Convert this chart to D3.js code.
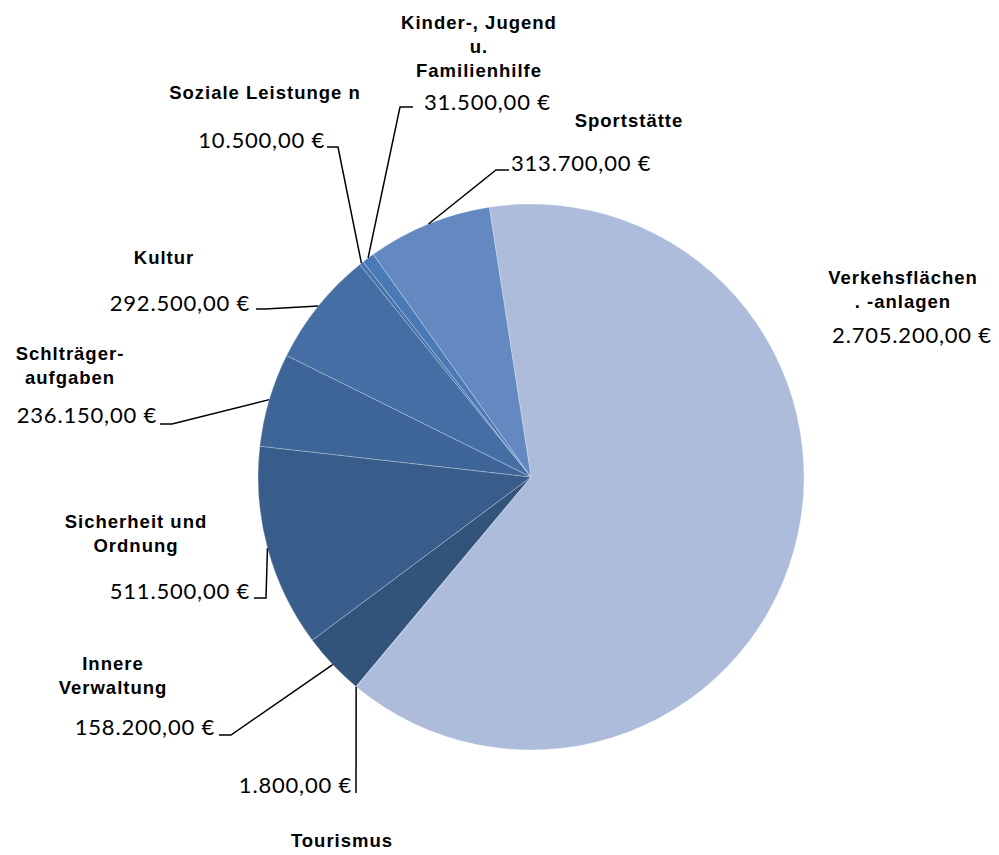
<!DOCTYPE html>
<html><head><meta charset="utf-8">
<script src="https://cdn.jsdelivr.net/npm/d3@7"></script>
<style>
html,body{margin:0;padding:0;background:#fff;}
svg{display:block;}
.name{font-family:"Liberation Sans",Arial,sans-serif;font-weight:bold;font-size:18.5px;letter-spacing:1px;fill:#000;}
.val{font-family:Lato,"Open Sans",sans-serif;font-size:22px;letter-spacing:0.8px;fill:#000;}
</style></head>
<body>
<svg id="chart" width="999" height="855"></svg>
<script>
// ---- data ----
const categories = ["Verkehsflächen . -anlagen","Tourismus","Innere Verwaltung","Sicherheit und Ordnung","Schlträger- aufgaben","Kultur","Soziale Leistunge n","Kinder-, Jugend u. Familienhilfe","Sportstätte"];
const nameLines = [["Verkehsflächen",". -anlagen"],["Tourismus"],["Innere","Verwaltung"],["Sicherheit und","Ordnung"],["Schlträger-","aufgaben"],["Kultur"],["Soziale Leistunge n"],["Kinder-, Jugend","u.","Familienhilfe"],["Sportstätte"]];
const values = [2705200,1800,158200,511500,236150,292500,10500,31500,313700];
const colors = ["#ADBCDA","#8FA6CC","#32547A","#395D8B","#3E6597","#456FA4","#4773AD","#4A7AB5","#6389C0"];

// ---- layout (label placement) ----
const labelLayout = [
  {name:[903,284,24], val:[912,343,"middle"], elbow:null},
  {name:[342,847,24], val:[352,793,"end"], elbow:[[356,793]]},
  {name:[113,670,24], val:[215,735,"end"], elbow:[[231,735],[219,735]]},
  {name:[136,528,24], val:[250,599,"end"], elbow:[[266,598],[254,598]]},
  {name:[70,360,24], val:[157,423,"end"], elbow:[[172,424],[160,424]]},
  {name:[164,264,24], val:[250,311,"end"], elbow:[[265,309],[256,309]]},
  {name:[265,99,24], val:[325,148,"end"], elbow:[[338,147],[327,147]]},
  {name:[479,29,24], val:[424,110,"start"], elbow:[[400,107],[413,107]]},
  {name:[629,127,24], val:[511,171,"start"], elbow:[[496,170],[509,170]]}
];

const cx = 531, cy = 477, R = 273;
const start = -8.8 * Math.PI / 180;
const fmt = v => d3.format(",.2f")(v).replace(/,/g,"#").replace(/\./g,",").replace(/#/g,".") + " €";

const svg = d3.select("#chart");
const g = svg.append("g").attr("transform", `translate(${cx},${cy})`);

const pie = d3.pie().sort(null).value(d => d.v).startAngle(start).endAngle(start + 2*Math.PI);
const arcs = pie(values.map((v,i) => ({v, i})));
const arc = d3.arc().innerRadius(0).outerRadius(R);

g.selectAll("path.slice").data(arcs).join("path")
  .attr("class","slice")
  .attr("d", arc)
  .attr("fill", d => colors[d.data.i])
  .attr("stroke", "rgba(255,255,255,0.35)")
  .attr("stroke-width", 0.75);

const line = d3.line();
arcs.forEach(d => {
  const L = labelLayout[d.data.i];
  if (!L.elbow) return;
  const a = (d.startAngle + d.endAngle) / 2;
  const p0 = [cx + R * Math.sin(a), cy - R * Math.cos(a)];
  svg.append("path")
    .attr("d", line([p0, ...L.elbow]))
    .attr("fill","none").attr("stroke","#000").attr("stroke-width",1.5);
});

categories.forEach((c,i) => {
  const L = labelLayout[i];
  const t = svg.append("text").attr("class","name").attr("text-anchor","middle");
  nameLines[i].forEach((ln,k) => {
    t.append("tspan").attr("x", L.name[0]).attr("y", L.name[1] + k*L.name[2]).text(ln);
  });
  svg.append("text").attr("class","val")
    .attr("x", L.val[0]).attr("y", L.val[1]).attr("text-anchor", L.val[2])
    .text(fmt(values[i]));
});
</script>
</body></html>
